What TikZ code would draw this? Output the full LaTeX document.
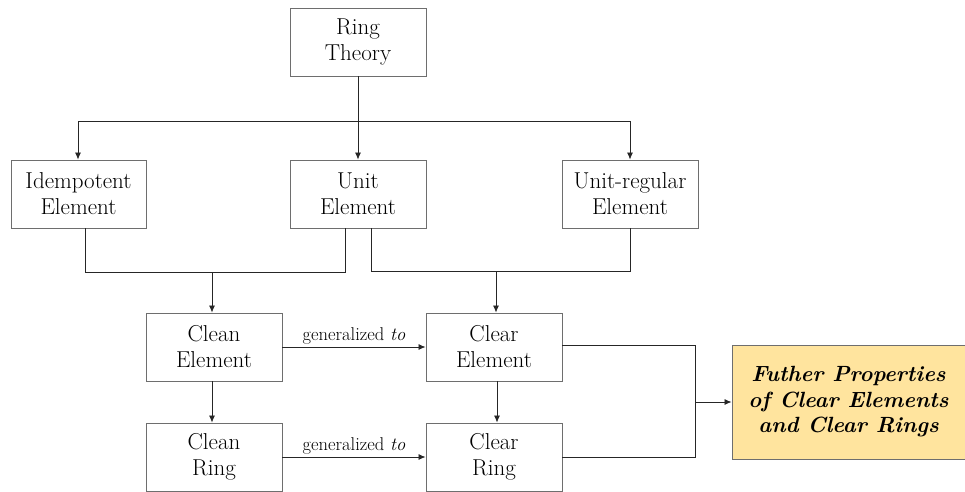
\documentclass[tikz,border=0pt]{standalone}
\usepackage{fontspec}
\usetikzlibrary{arrows.meta}
\definecolor{boxline}{RGB}{110,110,110}
\definecolor{goldfill}{RGB}{255,228,158}
\tikzset{
  box/.style={draw=boxline, line width=0.9pt, minimum width=136pt, minimum height=68pt,
    align=center, inner sep=0pt, font=\fontsize{23}{26}\selectfont},
  goal/.style={box, fill=goldfill, minimum width=233pt, minimum height=114pt,
    font=\fontsize{22}{25.5}\selectfont\bfseries\itshape},
  conn/.style={draw=black!85, line width=0.8pt},
  arr/.style={conn, -{Latex[length=7pt,width=6pt]}},
  elabel/.style={font=\fontsize{18.5}{22}\selectfont, inner sep=2pt}
}
\begin{document}
\begin{tikzpicture}[x=1pt,y=1pt]
\useasboundingbox (0,0) rectangle (965,-491);
\node[box] (ring) at (358,-42) {Ring\\Theory};
\node[box, minimum width=135pt] (idem) at (78.5,-194) {Idempotent\\Element};
\node[box] (unit) at (358,-194) {Unit\\Element};
\node[box] (ureg) at (630,-194) {Unit-regular\\Element};
\node[box] (cleanE) at (214,-347) {Clean\\Element};
\node[box] (clearE) at (494,-347) {Clear\\Element};
\node[box] (cleanR) at (214,-457) {Clean\\Ring};
\node[box] (clearR) at (494,-457) {Clear\\Ring};
\node[goal] (goal) at (848.5,-402) {Futher Properties\\of Clear Elements\\and Clear Rings};

\coordinate (t1) at (358,-121);
\coordinate (t2) at (78,-121);
\coordinate (t3) at (630,-121);
\draw[conn] (ring.south) -- (t1);
\draw[conn] (t2) -- (t3);
\draw[arr] (t2) -- (t2 |- idem.north);
\draw[arr] (t1) -- (unit.north);
\draw[arr] (t3) -- (ureg.north);

\coordinate (a1) at (85,-272);
\coordinate (a2) at (345,-272);
\coordinate (a3) at (212,-272);
\draw[conn] (a1 |- idem.south) -- (a1) -- (a2) -- (a2 |- unit.south);
\draw[arr] (a3) -- (a3 |- cleanE.north);

\coordinate (b1) at (371,-271);
\coordinate (b2) at (630,-271);
\coordinate (b3) at (496,-271);
\draw[conn] (b1 |- unit.south) -- (b1) -- (b2) -- (ureg.south);
\draw[arr] (b3) -- (b3 |- clearE.north);

\draw[arr] (cleanE.east) -- node[elabel, above] {generalized \textit{to}} (clearE.west);
\draw[arr] (cleanR.east) -- node[elabel, above] {generalized \textit{to}} (clearR.west);

\coordinate (c3) at (212,-381);
\draw[arr] (c3) -- (c3 |- cleanR.north);
\coordinate (d3) at (497,-381);
\draw[arr] (d3) -- (d3 |- clearR.north);

\coordinate (m1) at (695,-345);
\coordinate (m2) at (695,-457);
\coordinate (m3) at (695,-402);
\draw[conn] (clearE.east |- m1) -- (m1) -- (m2) -- (clearR.east);
\draw[arr] (m3) -- (goal.west);
\end{tikzpicture}
\end{document}
